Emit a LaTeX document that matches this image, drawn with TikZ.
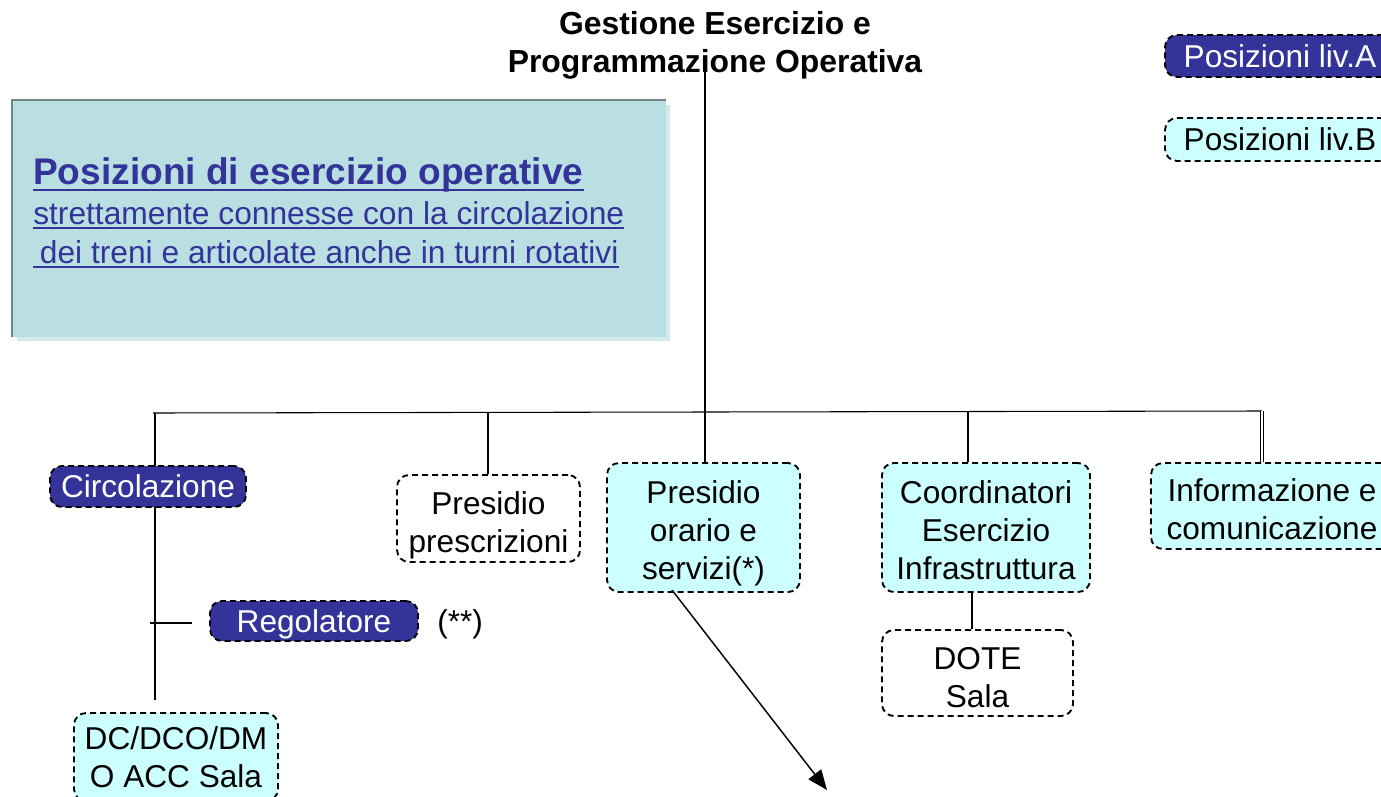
\documentclass[tikz,border=0pt]{standalone}
\usepackage{fontspec}
\setmainfont{Liberation Sans}
\usetikzlibrary{arrows.meta,backgrounds}
\definecolor{dblue}{HTML}{333399}
\definecolor{lcyan}{HTML}{CCFFFF}
\definecolor{panel}{HTML}{BADFE3}
\definecolor{panelshadow}{HTML}{D2EBEE}
\definecolor{paneledge}{HTML}{6F8587}
\newcommand{\tdown}[1]{\rule{0pt}{\dimexpr 17.8pt+#1\relax}}
\begin{document}
\begin{tikzpicture}[x=0.75pt,y=-0.75pt,
  box/.style={draw=black, dash pattern=on 4.5pt off 3pt, line width=1.4pt, rounded corners=9pt, align=center, inner sep=0pt, font=\fontsize{23.7pt}{28.5pt}\selectfont},
  boxA/.style={box, fill=dblue, text=white},
  boxB/.style={box, fill=lcyan},
  boxC/.style={box, fill=white},
  conn/.style={draw=black, line width=0.8pt},
  plain/.style={inner sep=0pt, font=\fontsize{23.7pt}{28.5pt}\selectfont},
  titletext/.style={inner sep=0pt, anchor=base, font=\fontsize{23.9pt}{28.5pt}\selectfont\bfseries},
  headtext/.style={inner sep=0pt, anchor=base west, text=dblue},
  uline/.style={draw=dblue}
]
\clip (0,0) rectangle (1381,796);

% title
\node[titletext] (title1) at (715,34) {Gestione Esercizio e};
\node[titletext] (title2) at (715,72) {Programmazione Operativa};

% heading texts
\node[headtext, font=\fontsize{27.8pt}{33pt}\selectfont\bfseries] (h1) at (33,184) {Posizioni di esercizio operative};
\node[headtext, font=\fontsize{23.8pt}{28.5pt}\selectfont] (h2) at (33,224) {strettamente connesse con la circolazione};
\node[headtext, font=\fontsize{23.8pt}{28.5pt}\selectfont] (h3) at (33,263) {\hspace{5pt}dei treni e articolate anche in turni rotativi};
\draw[uline, line width=2.2pt] ([yshift=-4.5pt]h1.base west) -- ([yshift=-4.5pt]h1.base east);
\draw[uline, line width=1.5pt] ([yshift=-3.2pt]h2.base west) -- ([yshift=-3.2pt]h2.base east);
\draw[uline, line width=1.5pt] ([yshift=-3.2pt]h3.base west) -- ([yshift=-3.2pt]h3.base east);

% legend
\node[boxA, minimum width=172.5pt, minimum height=31.5pt] (livA) at (1280,56) {Posizioni liv.A};
\node[boxB, minimum width=172.5pt, minimum height=32.25pt] (livB) at (1280,139.5) {Posizioni liv.B};

% boxes
\node[boxA, minimum width=147pt, minimum height=30.75pt] (circ) at (148,486.5) {Circolazione};
\node[boxA, minimum width=156pt, minimum height=30pt] (reg) at (314,621) {\tdown{4.5pt}Regolatore};
\node[plain, anchor=west] (rnote) at (437,624) {(**)};
\node[boxB, minimum width=153pt, minimum height=66pt] (dc) at (176,757) {DC/DCO/DM\\O ACC Sala};
\node[boxC, minimum width=137.25pt, minimum height=65.25pt] (pp) at (488.5,518.5) {\tdown{9pt}Presidio\\prescrizioni};
\node[boxB, minimum width=144.75pt, minimum height=96.75pt] (po) at (703.5,527.5) {\tdown{7.5pt}Presidio\\orario e\\servizi(*)};
\node[boxB, minimum width=156pt, minimum height=96.75pt] (co) at (986,527.5) {\tdown{3pt}Coordinatori\\Esercizio\\Infrastruttura};
\node[boxC, minimum width=143.25pt, minimum height=64.5pt] (dote) at (977.5,673) {\tdown{6pt}DOTE\\Sala};
\node[boxB, minimum width=181.5pt, minimum height=64.5pt] (inf) at (1272,506) {\tdown{4.5pt}Informazione e\\comunicazione};

% coordinates for connector ends
\coordinate (t0) at (705,68);
\coordinate (bl) at (153,413);
\coordinate (br) at (1262,411);
\coordinate (k1) at (155,413);
\coordinate (k1e) at (155,700);
\coordinate (k2) at (488,413);
\coordinate (k3) at (968,412);
\coordinate (k4) at (1262,411);
\coordinate (k5) at (972,0);
\coordinate (r0) at (150,623);
\coordinate (r1) at (192,623);
\coordinate (a0) at (672,590);
\coordinate (a1) at (827,790);

\begin{scope}[on background layer]
  \fill[panelshadow] (17,105) rectangle (670,341);
  \fill[panel] (12,100) rectangle (666,337);
  \draw[paneledge, line width=2.2pt] (12,337) -- (12,100) -- (666,100);
  \draw[conn] (t0) -- (t0 |- po.north);
  \draw[conn] (bl) -- (br);
  \draw[conn] (k1) -- (k1e);
  \draw[conn] (k2) -- (k2 |- pp.north);
  \draw[conn] (k3) -- (k3 |- co.north);
  \draw[conn, double, double distance=1pt, line width=0.7pt] (k4) -- (k4 |- inf.north);
  \draw[conn] (k5 |- co.south) -- (k5 |- dote.north);
  \draw[conn] (r0) -- (r1);
\end{scope}
\draw[conn, line width=1.1pt, -{Triangle[length=15pt,width=12pt]}] (a0) -- (a1);
\end{tikzpicture}
\end{document}
